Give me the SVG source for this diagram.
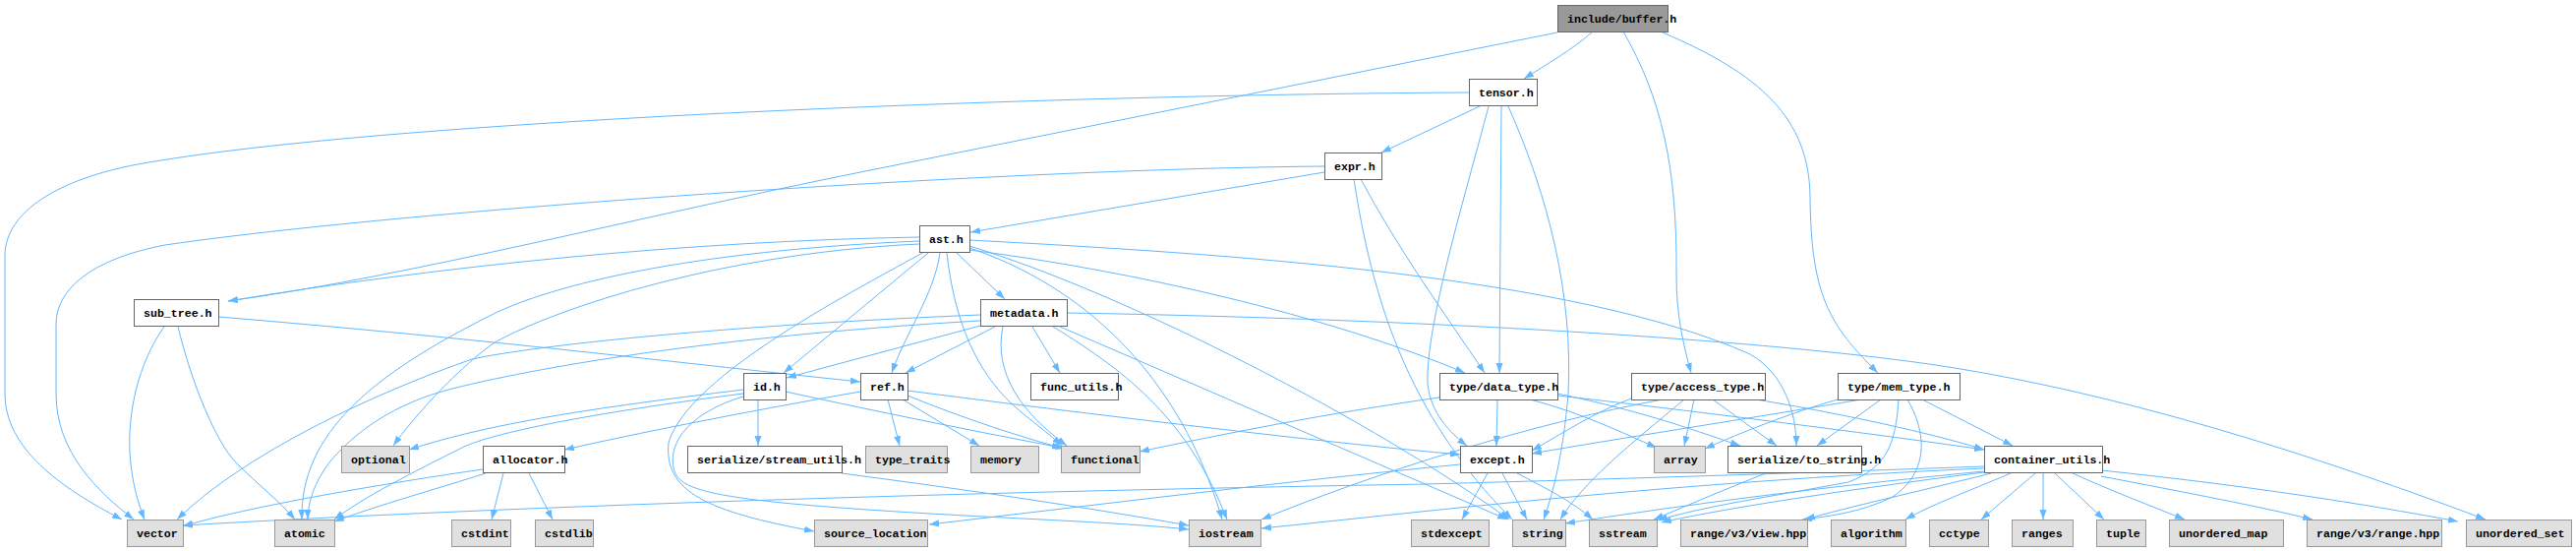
<svg xmlns="http://www.w3.org/2000/svg" width="2620" height="560" viewBox="0 0 2620 560">
<defs>
<marker id="a" markerWidth="11" markerHeight="8" refX="10" refY="3.5" orient="auto" markerUnits="userSpaceOnUse"><path d="M0,0 L10,3.5 L0,7 z" fill="#63b8ff"/></marker>
<style>
.e{fill:none;stroke:#63b8ff;stroke-width:1;marker-end:url(#a)}
.n rect{fill:#ffffff;stroke:#666666;stroke-width:1}
.x rect{fill:#e0e0e0;stroke:#999999;stroke-width:1}
.r rect{fill:#999999;stroke:#666666;stroke-width:1}
text{font-family:"Liberation Mono","DejaVu Sans Mono",monospace;font-weight:bold;font-size:11.6px;fill:#000000}
</style>
</defs>
<rect width="2620" height="560" fill="#ffffff"/>
<g id="edges">
<path class="e" d="M1620,32 C1600,50 1572,66 1550,80"/>
<path class="e" d="M1584,33 L880,174 C650,220 420,280 232,306"/>
<path class="e" d="M1651,32 C1690,100 1706,170 1705,280 C1705,320 1712,350 1720,379"/>
<path class="e" d="M1691,33 C1790,75 1840,120 1841,200 C1842,300 1860,330 1910,379"/>
<path class="e" d="M1494,94 C1100,96 400,120 140,167 C60,182 5,215 5,260 L5,400 C5,455 60,495 124,528"/>
<path class="e" d="M1505,108 L1405,155"/>
<path class="e" d="M1527,108 L1525,379"/>
<path class="e" d="M1514,108 C1490,200 1450,330 1452,390 C1455,420 1475,440 1492,453"/>
<path class="e" d="M1534,108 C1575,200 1600,300 1595,400 C1590,460 1580,500 1570,528"/>
<path class="e" d="M1347,169 C1000,172 400,215 168,249 C100,262 57,290 57,330 L57,400 C57,460 100,500 136,528"/>
<path class="e" d="M1347,175 L987,236"/>
<path class="e" d="M1384,182 C1420,250 1470,320 1510,379"/>
<path class="e" d="M1377,182 C1395,300 1430,420 1538,528"/>
<path class="e" d="M935,241 C700,245 450,270 232,306"/>
<path class="e" d="M935,245 C700,255 560,290 500,320 C380,380 305,440 307,528"/>
<path class="e" d="M935,248 C720,258 550,320 500,350 C460,380 420,425 400,453"/>
<path class="e" d="M940,256 C880,290 700,380 680,450 C675,500 720,520 828,540"/>
<path class="e" d="M944,257 L797,379"/>
<path class="e" d="M956,257 C950,300 920,340 907,379"/>
<path class="e" d="M963,257 C970,320 990,380 1040,420 C1055,432 1068,442 1080,453"/>
<path class="e" d="M973,257 L1022,304"/>
<path class="e" d="M986,252 C1100,290 1200,380 1243,528"/>
<path class="e" d="M986,254 C1150,275 1350,320 1490,379"/>
<path class="e" d="M986,244 C1250,258 1600,280 1780,360 C1815,380 1827,420 1827,453"/>
<path class="e" d="M986,250 C1150,300 1400,430 1535,528"/>
<path class="e" d="M1050,332 L1078,379"/>
<path class="e" d="M1012,332 L921,379"/>
<path class="e" d="M997,331 L800,384"/>
<path class="e" d="M997,320 C750,330 550,350 480,365 C380,400 250,460 180,528"/>
<path class="e" d="M997,326 C750,340 560,370 460,395 C400,410 360,440 335,470 C320,490 313,510 313,528"/>
<path class="e" d="M1020,332 C1010,380 1040,420 1085,453"/>
<path class="e" d="M1071,332 C1150,380 1210,430 1248,528"/>
<path class="e" d="M1078,332 L1533,528"/>
<path class="e" d="M1085,318 C1500,325 1850,350 2000,376 C2200,410 2400,480 2528,528"/>
<path class="e" d="M771,406 L771,453"/>
<path class="e" d="M756,396 C600,415 500,430 416,457"/>
<path class="e" d="M756,400 C600,420 500,440 470,455 C420,480 370,505 340,528"/>
<path class="e" d="M756,403 C700,420 680,450 685,475 C690,500 720,510 1000,525 C1100,530 1160,533 1209,538"/>
<path class="e" d="M799,398 C900,420 1000,440 1080,455"/>
<path class="e" d="M903,406 L915,453"/>
<path class="e" d="M918,406 L996,453"/>
<path class="e" d="M923,402 C980,425 1040,445 1083,456"/>
<path class="e" d="M923,397 C1100,420 1350,450 1485,462"/>
<path class="e" d="M875,398 C750,420 650,440 574,457"/>
<path class="e" d="M222,322 C500,345 700,370 875,388"/>
<path class="e" d="M167,332 C140,370 130,420 132,460 C134,490 140,510 147,528"/>
<path class="e" d="M181,332 C195,390 220,450 240,470 C265,495 285,510 300,528"/>
<path class="e" d="M491,477 C400,490 250,515 186,535"/>
<path class="e" d="M494,481 C450,495 380,515 340,530"/>
<path class="e" d="M512,481 L500,528"/>
<path class="e" d="M538,481 L562,528"/>
<path class="e" d="M856,481 C1000,500 1100,515 1209,534"/>
<path class="e" d="M1464,404 C1350,420 1250,440 1159,459"/>
<path class="e" d="M1523,406 L1522,453"/>
<path class="e" d="M1556,406 C1610,420 1650,440 1685,455"/>
<path class="e" d="M1584,400 C1680,420 1730,440 1770,453"/>
<path class="e" d="M1584,402 C1700,415 1900,440 2018,457"/>
<path class="e" d="M1659,405 C1620,420 1590,440 1558,458"/>
<path class="e" d="M1691,406 C1560,430 1400,480 1283,528"/>
<path class="e" d="M1713,406 C1660,450 1610,490 1587,528"/>
<path class="e" d="M1723,406 L1713,453"/>
<path class="e" d="M1742,406 L1807,453"/>
<path class="e" d="M1786,406 C1900,425 1980,445 2018,457"/>
<path class="e" d="M1869,406 C1820,420 1770,440 1734,456"/>
<path class="e" d="M1893,406 C1750,430 1650,445 1558,461"/>
<path class="e" d="M1913,406 L1848,453"/>
<path class="e" d="M1931,406 C1928,450 1920,475 1880,490 C1800,505 1730,515 1686,529"/>
<path class="e" d="M1940,406 C1960,440 1962,480 1925,505 C1895,520 1860,525 1833,528"/>
<path class="e" d="M1955,406 L2047,453"/>
<path class="e" d="M1796,481 C1760,495 1720,512 1682,528"/>
<path class="e" d="M1513,481 L1487,528"/>
<path class="e" d="M1528,481 L1553,528"/>
<path class="e" d="M1543,481 C1570,495 1600,510 1620,528"/>
<path class="e" d="M1485,472 C1300,490 1100,515 945,533"/>
<path class="e" d="M2018,474 C1800,482 1600,488 1450,492 C1100,498 600,510 186,534"/>
<path class="e" d="M2018,476 C1700,490 1450,520 1283,537"/>
<path class="e" d="M2018,479 C1850,495 1700,515 1592,532"/>
<path class="e" d="M2018,480 C1900,495 1760,515 1690,531"/>
<path class="e" d="M2025,481 C1950,500 1880,515 1836,528"/>
<path class="e" d="M2045,481 C2000,500 1960,515 1938,528"/>
<path class="e" d="M2070,481 L2015,528"/>
<path class="e" d="M2078,481 L2078,528"/>
<path class="e" d="M2090,481 L2140,528"/>
<path class="e" d="M2108,481 C2150,500 2190,515 2222,528"/>
<path class="e" d="M2137,484 C2220,500 2300,515 2352,528"/>
<path class="e" d="M2137,478 C2300,495 2420,515 2500,530"/>
</g>
<g id="n_buffer" class="r"><rect x="1584.5" y="5.5" width="112" height="27"/><text x="1594" y="22.5">include/buffer.h</text></g>
<g id="n_tensor" class="n"><rect x="1494.5" y="80.5" width="69" height="27"/><text x="1504" y="97.5">tensor.h</text></g>
<g id="n_expr" class="n"><rect x="1347.5" y="155.5" width="58" height="27"/><text x="1357" y="172.5">expr.h</text></g>
<g id="n_ast" class="n"><rect x="935.5" y="229.5" width="51" height="27"/><text x="945" y="246.5">ast.h</text></g>
<g id="n_sub_tree" class="n"><rect x="136.5" y="304.5" width="86" height="27"/><text x="146" y="321.5">sub_tree.h</text></g>
<g id="n_metadata" class="n"><rect x="997.5" y="304.5" width="88" height="27"/><text x="1007" y="321.5">metadata.h</text></g>
<g id="n_id" class="n"><rect x="756.5" y="379.5" width="43" height="27"/><text x="766" y="396.5">id.h</text></g>
<g id="n_ref" class="n"><rect x="875.5" y="379.5" width="48" height="27"/><text x="885" y="396.5">ref.h</text></g>
<g id="n_func_utils" class="n"><rect x="1048.5" y="379.5" width="89" height="27"/><text x="1058" y="396.5">func_utils.h</text></g>
<g id="n_data_type" class="n"><rect x="1464.5" y="379.5" width="120" height="27"/><text x="1474" y="396.5">type/data_type.h</text></g>
<g id="n_access_type" class="n"><rect x="1659.5" y="379.5" width="136" height="27"/><text x="1669" y="396.5">type/access_type.h</text></g>
<g id="n_mem_type" class="n"><rect x="1869.5" y="379.5" width="124" height="27"/><text x="1879" y="396.5">type/mem_type.h</text></g>
<g id="n_optional" class="x"><rect x="347.5" y="453.5" width="69" height="27"/><text x="357" y="470.5">optional</text></g>
<g id="n_allocator" class="n"><rect x="491.5" y="453.5" width="83" height="27"/><text x="501" y="470.5">allocator.h</text></g>
<g id="n_stream_utils" class="n"><rect x="699.5" y="453.5" width="157" height="27"/><text x="709" y="470.5">serialize/stream_utils.h</text></g>
<g id="n_type_traits" class="x"><rect x="880.5" y="453.5" width="83" height="27"/><text x="890" y="470.5">type_traits</text></g>
<g id="n_memory" class="x"><rect x="987.5" y="453.5" width="69" height="27"/><text x="997" y="470.5">memory</text></g>
<g id="n_functional" class="x"><rect x="1079.5" y="453.5" width="80" height="27"/><text x="1089" y="470.5">functional</text></g>
<g id="n_except" class="n"><rect x="1485.5" y="453.5" width="73" height="27"/><text x="1495" y="470.5">except.h</text></g>
<g id="n_array" class="x"><rect x="1682.5" y="453.5" width="52" height="27"/><text x="1692" y="470.5">array</text></g>
<g id="n_to_string" class="n"><rect x="1757.5" y="453.5" width="136" height="27"/><text x="1767" y="470.5">serialize/to_string.h</text></g>
<g id="n_container_utils" class="n"><rect x="2018.5" y="453.5" width="120" height="27"/><text x="2028" y="470.5">container_utils.h</text></g>
<g id="n_vector" class="x"><rect x="129.5" y="528.5" width="57" height="27"/><text x="139" y="545.5">vector</text></g>
<g id="n_atomic" class="x"><rect x="279.5" y="528.5" width="61" height="27"/><text x="289" y="545.5">atomic</text></g>
<g id="n_cstdint" class="x"><rect x="459.5" y="528.5" width="60" height="27"/><text x="469" y="545.5">cstdint</text></g>
<g id="n_cstdlib" class="x"><rect x="544.5" y="528.5" width="59" height="27"/><text x="554" y="545.5">cstdlib</text></g>
<g id="n_source_location" class="x"><rect x="828.5" y="528.5" width="115" height="27"/><text x="838" y="545.5">source_location</text></g>
<g id="n_iostream" class="x"><rect x="1209.5" y="528.5" width="73" height="27"/><text x="1219" y="545.5">iostream</text></g>
<g id="n_stdexcept" class="x"><rect x="1435.5" y="528.5" width="79" height="27"/><text x="1445" y="545.5">stdexcept</text></g>
<g id="n_string" class="x"><rect x="1538.5" y="528.5" width="54" height="27"/><text x="1548" y="545.5">string</text></g>
<g id="n_sstream" class="x"><rect x="1616.5" y="528.5" width="69" height="27"/><text x="1626" y="545.5">sstream</text></g>
<g id="n_view" class="x"><rect x="1709.5" y="528.5" width="129" height="27"/><text x="1719" y="545.5">range/v3/view.hpp</text></g>
<g id="n_algorithm" class="x"><rect x="1862.5" y="528.5" width="76" height="27"/><text x="1872" y="545.5">algorithm</text></g>
<g id="n_cctype" class="x"><rect x="1962.5" y="528.5" width="60" height="27"/><text x="1972" y="545.5">cctype</text></g>
<g id="n_ranges" class="x"><rect x="2046.5" y="528.5" width="62" height="27"/><text x="2056" y="545.5">ranges</text></g>
<g id="n_tuple" class="x"><rect x="2132.5" y="528.5" width="50" height="27"/><text x="2142" y="545.5">tuple</text></g>
<g id="n_unordered_map" class="x"><rect x="2206.5" y="528.5" width="116" height="27"/><text x="2216" y="545.5">unordered_map</text></g>
<g id="n_range" class="x"><rect x="2346.5" y="528.5" width="137" height="27"/><text x="2356" y="545.5">range/v3/range.hpp</text></g>
<g id="n_unordered_set" class="x"><rect x="2508.5" y="528.5" width="107" height="27"/><text x="2518" y="545.5">unordered_set</text></g>
</svg>
